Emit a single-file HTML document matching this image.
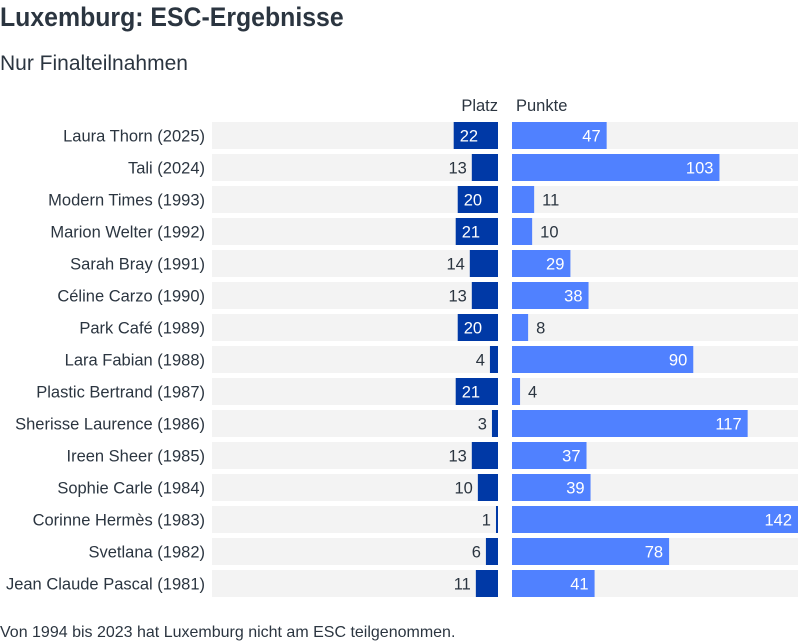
<!DOCTYPE html>
<html><head><meta charset="utf-8"><style>
body{margin:0;width:800px;height:638px;overflow:hidden;background:#fff;font-family:"Liberation Sans",sans-serif;color:#2b3540}
#title{position:absolute;left:0;top:0;font-family:"Liberation Sans",sans-serif;font-weight:bold;font-size:27px;line-height:34px;transform:scaleX(0.92);transform-origin:left}
#sub{position:absolute;left:0;top:50px;font-size:21px;line-height:28px}
#foot{position:absolute;left:0;top:623px;font-size:16px;line-height:20px}
svg{position:absolute;left:0;top:0}
text{font-family:"Liberation Sans",sans-serif;font-size:16.5px}
</style></head><body>
<div id="title">Luxemburg: ESC-Ergebnisse</div>
<div id="sub">Nur Finalteilnahmen</div>
<svg id="chart" width="800" height="638"></svg>
<div id="foot">Von 1994 bis 2023 hat Luxemburg nicht am ESC teilgenommen.</div>
<script>
const names=["Laura Thorn (2025)","Tali (2024)","Modern Times (1993)","Marion Welter (1992)","Sarah Bray (1991)","Céline Carzo (1990)","Park Café (1989)","Lara Fabian (1988)","Plastic Bertrand (1987)","Sherisse Laurence (1986)","Ireen Sheer (1985)","Sophie Carle (1984)","Corinne Hermès (1983)","Svetlana (1982)","Jean Claude Pascal (1981)"];
const platz=[22,13,20,21,14,13,20,4,21,3,13,10,1,6,11];
const punkte=[47,103,11,10,29,38,8,90,4,117,37,39,142,78,41];
const NS="http://www.w3.org/2000/svg";
const svg=document.getElementById('chart');
const top0=122,pitch=32,rh=27,pw=286,maxV=142;
const lx0=212,lx1=498,rx0=512;
const sc=v=>v/maxV*pw;
function el(t,a,p){const e=document.createElementNS(NS,t);for(const k in a)e.setAttribute(k,a[k]);(p||svg).appendChild(e);return e;}
const h1=el('text',{x:498,y:111,'text-anchor':'end',fill:'#2b3540'});h1.textContent='Platz';


const h2=el('text',{x:516,y:111,fill:'#2b3540'});h2.textContent='Punkte';


names.forEach((n,i)=>{
  const y=top0+i*pitch,cy=y+rh/2+6;
  const g=el('g',{});
  
  
  const lb=el('text',{x:205,y:cy,'text-anchor':'end',fill:'#2b3540'},g);lb.textContent=n;
  
  
  el('rect',{x:lx0,y:y,width:pw,height:rh,fill:'#f3f3f3'},g);
  el('rect',{x:rx0,y:y,width:pw,height:rh,fill:'#f3f3f3'},g);
  const pwid=sc(platz[i]);
  const b1=el('rect',{x:lx1-pwid,y:y,width:pwid,height:rh,fill:'#0039a6'},g);
  
  
  const inside1=platz[i]>=17;
  const t1=el('text',{x:inside1?lx1-pwid+6:lx1-pwid-5,y:cy,'text-anchor':inside1?'start':'end',fill:inside1?'#fff':'#2b3540'},g);t1.textContent=platz[i];
  
  
  const qw=sc(punkte[i]);
  const b2=el('rect',{x:rx0,y:y,width:qw,height:rh,fill:'#5081ff'},g);
  
  
  const inside2=punkte[i]>=17;
  const t2=el('text',{x:inside2?rx0+qw-6:rx0+qw+8,y:cy,'text-anchor':inside2?'end':'start',fill:inside2?'#fff':'#2b3540'},g);t2.textContent=punkte[i];
  
  
});
</script>
</body></html>
